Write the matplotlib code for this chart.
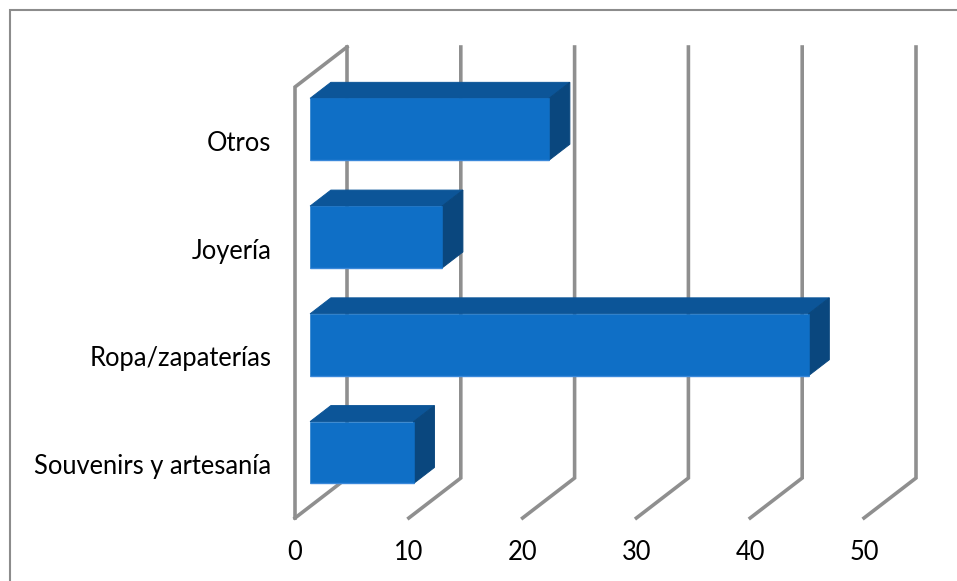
import matplotlib
matplotlib.use("Agg")
import matplotlib.pyplot as plt
from matplotlib.lines import Line2D
from matplotlib.patches import Polygon

categories = ["Souvenirs y artesanía", "Ropa/zapaterías", "Joyería", "Otros"]
values = [9.1, 43.8, 11.6, 21.0]
x_ticks = [0, 10, 20, 30, 40, 50]

W, H = 957, 581
GRID = "#8f8f8f"
FRAME = "#8c8c8c"
FRONT = "#0F6FC6"
TOP = "#0C5598"
SIDE = "#0A477E"
EDGE = "#3A88DA"

plt.rcParams["font.family"] = ["Lato", "DejaVu Sans"]

fig = plt.figure(figsize=(W / 100, H / 100), dpi=100, facecolor="white")
ax = fig.add_axes([295 / W, (H - 518) / H, 569 / W, 431 / H])
ax.set_xlim(0, 50)
ax.set_ylim(-0.5, 3.5)
ax.patch.set_visible(False)
for s in ax.spines.values():
    s.set_visible(False)

# Oblique projection: depth d in 0..1 shifts a point right and up on the page.
DX = 52 / (569 / 50)
DY = 40 / (431 / 4)


def proj(x, y, d):
    return x + d * DX, y + d * DY


def line(points, lw=3.6):
    xs, ys = zip(*points)
    ax.plot(xs, ys, color=GRID, lw=lw * 0.72, clip_on=False, zorder=1,
            solid_capstyle="projecting", solid_joinstyle="miter")


# Value gridlines: floor diagonal plus the vertical on the back wall.
y0, y1 = -0.5, 3.5
for t in x_ticks:
    line([proj(t, y0, 0), proj(t, y0, 1), proj(t, y1, 1)])
# Left wall outline.
line([proj(0, y0, 0), proj(0, y1, 0), proj(0, y1, 1)])

# 3D bars: front, top and side faces; the thin matching outlines close the seams.
HALF = 0.287
D0, D1 = 0.29, 0.69
for i, v in enumerate(values):
    b, t = i - HALF, i + HALF
    top = [proj(0, t, D0), proj(v, t, D0), proj(v, t, D1), proj(0, t, D1)]
    side = [proj(v, b, D0), proj(v, t, D0), proj(v, t, D1), proj(v, b, D1)]
    front = [proj(0, b, D0), proj(v, b, D0), proj(v, t, D0), proj(0, t, D0)]
    ax.add_patch(Polygon(top, closed=True, fc=TOP, ec=TOP, lw=0.7, zorder=3, clip_on=False))
    ax.add_patch(Polygon(side, closed=True, fc=SIDE, ec=SIDE, lw=0.7, zorder=3, clip_on=False))
    ax.add_patch(Polygon(front, closed=True, fc=FRONT, ec=FRONT, lw=0.4, zorder=4, clip_on=False))
    ax.plot([front[0][0], front[1][0]], [front[0][1], front[1][1]],
            color=EDGE, lw=1.0, zorder=5, clip_on=False, solid_capstyle="butt")

ax.set_xticks(x_ticks)
ax.set_yticks(range(len(categories)))
ax.set_yticklabels(categories)
ax.tick_params(axis="x", length=0, pad=15.5, labelsize=18.4, labelcolor="black")
ax.tick_params(axis="y", length=0, pad=17, labelsize=18.4, labelcolor="black")

# Outer frame, open on the right and bottom.
fx0, fy0 = 9.5 / W, 1 - 10 / H
fig.add_artist(Line2D([fx0, fx0, 1], [0, fy0, fy0], color=FRAME, lw=1.5,
                      solid_joinstyle="miter", solid_capstyle="butt"))

fig.savefig("out.png", dpi=100)
